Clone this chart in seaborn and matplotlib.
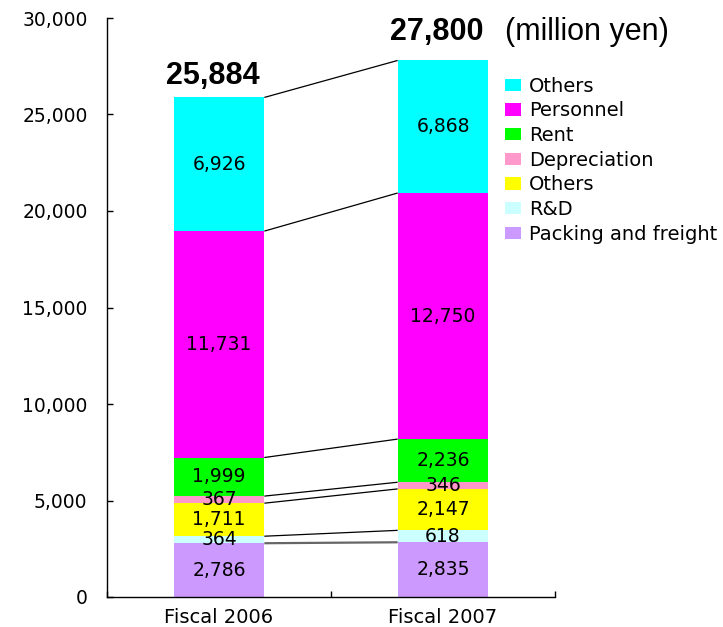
import matplotlib
matplotlib.use("Agg")
import matplotlib.pyplot as plt
from matplotlib.patches import Patch
import numpy as np
import pandas as pd
import seaborn as sns

# Selling, general and administrative expenses (million yen)
years = ["Fiscal 2006", "Fiscal 2007"]
components = ["Packing and freight", "R&D", "Others", "Depreciation",
              "Rent", "Personnel", "Others"]
packing = [2786, 2835]
rnd = [364, 618]
others_low = [1711, 2147]
depreciation = [367, 346]
rent = [1999, 2236]
personnel = [11731, 12750]
others_top = [6926, 6868]
totals = [25884, 27800]
y_ticks = [0, 5000, 10000, 15000, 20000, 25000, 30000]

series = [packing, rnd, others_low, depreciation, rent, personnel, others_top]
colors = ["#CC99FF", "#CCFFFF", "#FFFF00", "#FF99CC",
          "#00FF00", "#FF00FF", "#00FFFF"]

sns.set_theme(style="white")
plt.rcParams["font.family"] = ["DejaVu Sans"]
plt.rcParams["text.color"] = "black"
plt.rcParams["xtick.color"] = "black"
plt.rcParams["ytick.color"] = "black"
plt.rcParams["xtick.labelcolor"] = "black"
plt.rcParams["ytick.labelcolor"] = "black"

fig = plt.figure(figsize=(7.23, 6.27), dpi=100)
ax = fig.add_axes([107 / 723, 1 - 597 / 627, 448 / 723, 579 / 627])

bar_w = 0.405
bottoms = np.zeros(len(years))
boundaries = []
for vals, col in zip(series, colors):
    df = pd.DataFrame({"year": years, "value": vals})
    sns.barplot(data=df, x="year", y="value", color=col, width=bar_w,
                bottom=bottoms.copy(), saturation=1, linewidth=0,
                ax=ax, errorbar=None)
    vals = np.asarray(vals, dtype=float)
    for i, v in enumerate(vals):
        ax.text(i, bottoms[i] + v / 2, f"{int(v):,}", ha="center",
                va="center", fontsize=13.5, color="black")
    bottoms = bottoms + vals
    boundaries.append(bottoms.copy())

# connector lines between matching segment boundaries
for k, b in enumerate(boundaries):
    col = "#666666" if k == 0 else "black"
    lw = 1.6 if k == 0 else 0.9
    ax.plot([bar_w / 2, 1 - bar_w / 2], [b[0], b[1]], color=col, lw=lw,
            solid_capstyle="butt")

# totals above the bars
offsets = [10, 14.8]
for i, t in enumerate(totals):
    ax.annotate(f"{t:,}", xy=(i, t), xytext=(-4.3, offsets[i]),
                textcoords="offset points", ha="center", va="baseline",
                fontsize=22, fontweight="bold", family="Liberation Sans",
                color="black")
fig.text(505 / 723, 1 - 40 / 627, "(million yen)", ha="left",
         va="baseline", fontsize=22, family="Liberation Sans", color="black")

ax.set_xlim(-0.5, 1.5)
ax.set_ylim(0, 30000)
ax.set_yticks(y_ticks)
ax.set_yticklabels([f"{v:,}" for v in y_ticks])
ax.set_xlabel("")
ax.set_ylabel("")

for side in ("top", "right"):
    ax.spines[side].set_visible(False)
for side in ("left", "bottom"):
    ax.spines[side].set_color("black")
    ax.spines[side].set_linewidth(1.0)

ax.tick_params(axis="y", direction="in", length=4, width=1, color="black",
               labelsize=13.5, pad=14, left=True, labelcolor="black")
ax.tick_params(axis="x", which="major", length=0, labelsize=14, pad=8,
               labelcolor="black")
ax.set_xticks([-0.5, 0.5, 1.5], minor=True)
ax.tick_params(axis="x", which="minor", direction="in", length=4, width=1,
               color="black", bottom=True)

handles = [Patch(facecolor=c, edgecolor="none") for c in colors[::-1]]
labels = components[::-1]
fig.legend(handles, labels, loc="upper left",
           bbox_to_anchor=(497 / 723, 1 - 69 / 627), frameon=False,
           fontsize=14, handlelength=0.85, handleheight=0.6,
           handletextpad=0.4, labelspacing=0.29, borderaxespad=0,
           labelcolor="black")

fig.savefig("out.png", dpi=100)
